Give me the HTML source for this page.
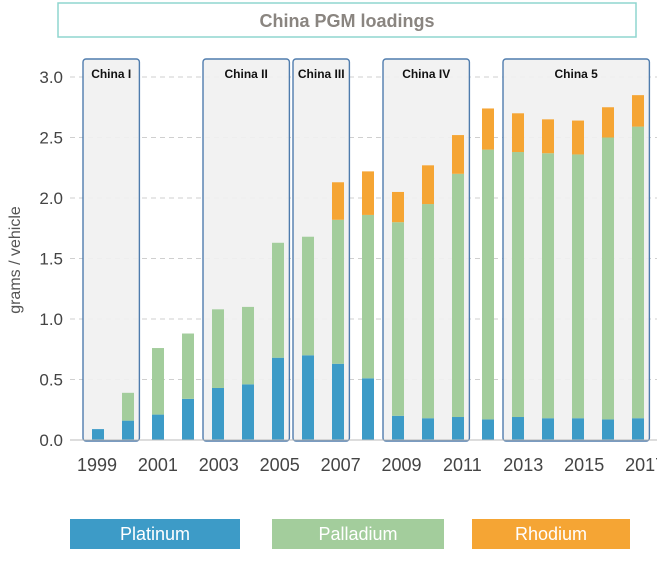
<!DOCTYPE html>
<html><head><meta charset="utf-8"><style>
body{margin:0;background:#fff;width:657px;height:557px;overflow:hidden;font-family:"Liberation Sans",sans-serif}
</style></head><body>
<svg id="chart" width="657" height="557" xmlns="http://www.w3.org/2000/svg">
<rect x="58" y="3" width="578" height="34" fill="#fff" stroke="#8fd6cf" stroke-width="1.5"/>
<text x="347" y="27" text-anchor="middle" font-size="18" font-weight="bold" fill="#8a8580">China PGM loadings</text>
<g id="grid"></g>
<g id="groups"></g>
<g id="bars"></g>
<g id="axes"></g>
<text transform="translate(20,260) rotate(-90)" text-anchor="middle" font-size="16" fill="#555">grams / vehicle</text>
<rect x="70" y="519" width="170" height="30" fill="#3d9bc7"/>
<text x="155" y="540" text-anchor="middle" font-size="18" fill="#fff">Platinum</text>
<rect x="272" y="519" width="172" height="30" fill="#a3cd9c"/>
<text x="358" y="540" text-anchor="middle" font-size="18" fill="#fff">Palladium</text>
<rect x="472" y="519" width="158" height="30" fill="#f5a534"/>
<text x="551" y="540" text-anchor="middle" font-size="18" fill="#fff">Rhodium</text>
</svg>
<script>
const years=[1999,2000,2001,2002,2003,2004,2005,2006,2007,2008,2009,2010,2011,2012,2013,2014,2015,2016,2017];
const platinum=[0.09,0.16,0.21,0.34,0.43,0.46,0.68,0.70,0.63,0.51,0.20,0.18,0.19,0.17,0.19,0.18,0.18,0.17,0.18];
const palladium=[0,0.23,0.55,0.54,0.65,0.64,0.95,0.98,1.19,1.35,1.60,1.77,2.01,2.23,2.19,2.19,2.18,2.33,2.41];
const rhodium=[0,0,0,0,0,0,0,0,0.31,0.36,0.25,0.32,0.32,0.34,0.32,0.28,0.28,0.25,0.26];
const yTicks=[0,0.5,1.0,1.5,2.0,2.5,3.0];
const xLabels=[1999,2001,2003,2005,2007,2009,2011,2013,2015,2017];
const groupNames=["China I","China II","China III","China IV","China 5"];
const groupStart=[1999,2003,2006,2009,2013];
const groupEnd=[2000,2005,2007,2011,2017];
const NS="http://www.w3.org/2000/svg";
const y=v=>440-v*121;
const x=yr=>98+(yr-1999)*30;
const xl=yr=>97+(yr-1999)*30.45;
function mk(tag,attrs,parent){const e=document.createElementNS(NS,tag);for(const k in attrs)e.setAttribute(k,attrs[k]);parent.appendChild(e);return e;}
const GR=document.getElementById('grid'),G=document.getElementById('groups'),B=document.getElementById('bars'),A=document.getElementById('axes');
yTicks.forEach(v=>{
 if(v===0)return;
 const l=mk('line',{x1:70,x2:657,y1:y(v),y2:y(v),stroke:'#cfcfcf','stroke-width':1,'stroke-dasharray':'5,4'},GR);
 
 
});
groupNames.forEach((n,i)=>{
 const x0=x(groupStart[i]-0.5),x1=x(groupEnd[i]+0.38);
 const r=mk('rect',{x:x0,y:59,width:x1-x0,height:382,fill:'#f1f1f1','fill-opacity':0.92,stroke:'#4f7cad','stroke-width':1.4,rx:3},G);
 
 
 const t=mk('text',{x:(x0+x1)/2,y:78,'text-anchor':'middle','font-size':12,'font-weight':'bold',fill:'#111'},G);
 t.textContent=n;
 
 
});
const bw=12;
years.forEach((yr,i)=>{
 const segs=[[platinum[i],'#3d9bc7','platinum'],[palladium[i],'#a3cd9c','palladium'],[rhodium[i],'#f5a534','rhodium']];
 let base=0;
 segs.forEach(s=>{
  if(s[0]>0){
   const r=mk('rect',{x:x(yr)-bw/2,y:y(base+s[0]),width:bw,height:y(base)-y(base+s[0]),fill:s[1]},B);
   
   
  }
  base+=s[0];
 });
});
const ax=mk('line',{x1:70,x2:657,y1:440,y2:440,stroke:'#bbb','stroke-width':1},A);


yTicks.forEach(v=>{
 const t=mk('text',{x:63,y:y(v)+6,'text-anchor':'end','font-size':17,fill:'#444'},A);
 t.textContent=v.toFixed(1);
 
 
});
xLabels.forEach(yr=>{
 const t=mk('text',{x:xl(yr),y:471,'text-anchor':'middle','font-size':18,fill:'#444'},A);
 t.textContent=yr;
 
 
});
</script>
</body></html>
